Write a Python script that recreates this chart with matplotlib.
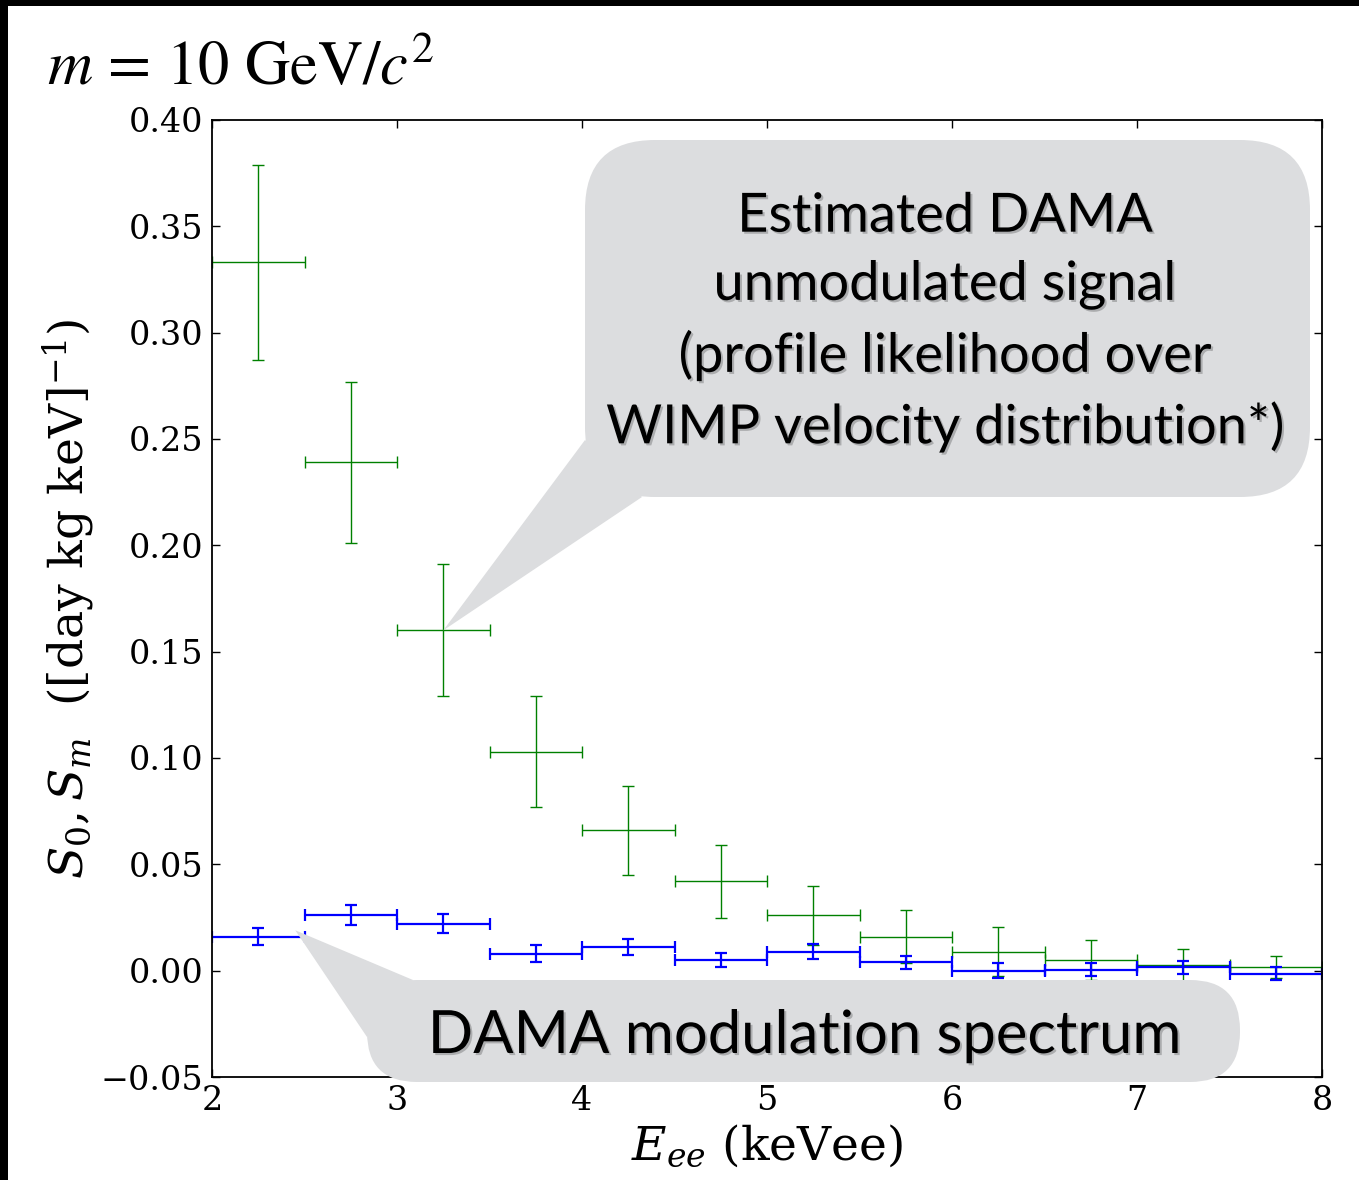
import matplotlib
matplotlib.use("Agg")
import matplotlib.pyplot as plt
import matplotlib.patheffects as pe
from matplotlib.patches import FancyBboxPatch, Polygon, Rectangle

# DAMA spectra, m = 10 GeV/c^2
energy = [2.25, 2.75, 3.25, 3.75, 4.25, 4.75, 5.25, 5.75, 6.25, 6.75, 7.25, 7.75]
bin_half = 0.25
s0 = [0.333, 0.239, 0.160, 0.103, 0.066, 0.042, 0.026, 0.016, 0.009, 0.005, 0.0027, 0.0017]
s0_err = [0.046, 0.038, 0.031, 0.026, 0.021, 0.017, 0.014, 0.0125, 0.0115, 0.0095, 0.0075, 0.005]
sm = [0.016, 0.026, 0.022, 0.008, 0.011, 0.005, 0.009, 0.004, 0.000, 0.0005, 0.0015, -0.0015]
sm_err = [0.004, 0.0047, 0.0045, 0.004, 0.0038, 0.0035, 0.0035, 0.003, 0.0035, 0.003, 0.003, 0.003]
yticks = [-0.05, 0.00, 0.05, 0.10, 0.15, 0.20, 0.25, 0.30, 0.35, 0.40]
xticks = [2, 3, 4, 5, 6, 7, 8]

W, H = 1359, 1180
plt.rcParams['font.family'] = 'DejaVu Serif'
plt.rcParams['mathtext.fontset'] = 'dejavuserif'

fig = plt.figure(figsize=(W / 100, H / 100), dpi=100)
ax = fig.add_axes([212 / W, 1 - 1077 / H, (1322 - 212) / W, (1077 - 120) / H])

ax.errorbar(energy, s0, xerr=bin_half, yerr=s0_err, fmt='none', ecolor='g',
            elinewidth=1.0, capsize=4, capthick=1.0)
ax.errorbar(energy, sm, xerr=bin_half, yerr=sm_err, fmt='none', ecolor='b',
            elinewidth=1.6, capsize=4, capthick=1.6)

ax.set_xlim(2, 8)
ax.set_ylim(-0.05, 0.40)
ax.set_xticks(xticks)
ax.set_yticks(yticks)
ax.set_yticklabels(['\u22120.05' if t < 0 else f'{t:.2f}' for t in yticks])
ax.tick_params(direction='in', top=True, right=True, length=6, width=1,
               labelsize=24, pad=6)
for s in ax.spines.values():
    s.set_linewidth(1.3)

ax.set_xlabel(r'$E_{ee}$ (keVee)', fontsize=34, labelpad=4)
ax.set_ylabel(r'$S_0, S_m$  ([day kg keV]$^{-1}$)', fontsize=34, labelpad=3)

fig.text(47 / W, 1 - 85 / H, r'$m$ = 10 GeV/$c^2$', fontsize=45,
         family='STIXGeneral', math_fontfamily='stix', va='baseline')

# overlay in pixel coordinates for the callouts
ov = fig.add_axes([0, 0, 1, 1], zorder=5)
ov.set_xlim(0, W)
ov.set_ylim(H, 0)
ov.axis('off')


def to_px(x, y):
    px, py = ax.transData.transform((x, y))
    return px, H - py


gray = '#dcdddf'
shadow = [pe.withSimplePatchShadow(offset=(1.5, -1.5), shadow_rgbFace='k', alpha=0.22)]

tip = to_px(3.25, 0.16)
ov.add_patch(Polygon([tip, (585, 440), (642, 497)], closed=True, fc=gray, ec='none'))
ov.add_patch(FancyBboxPatch((585, 140), 725, 357, boxstyle='round,pad=0,rounding_size=70',
                            fc=gray, ec='none'))
ov.text(945, 322, 'Estimated DAMA\nunmodulated signal\n(profile likelihood over\nWIMP velocity distribution*)',
        ha='center', va='center', fontsize=39, family='Lato', linespacing=1.48,
        path_effects=shadow)

tip2 = to_px(2.45, 0.019)
ov.add_patch(Polygon([tip2, (413, 980), (367, 1037)], closed=True, fc=gray, ec='none'))
ov.add_patch(FancyBboxPatch((367, 980), 873, 102, boxstyle='round,pad=0,rounding_size=50',
                            fc=gray, ec='none'))
ov.text(805, 1036, 'DAMA modulation spectrum', ha='center', va='center',
        fontsize=43, family='Lato', path_effects=shadow)

# black frame edges of the original slide
ov.add_patch(Rectangle((0, 0), W, 6, fc='k', ec='none'))
ov.add_patch(Rectangle((0, 0), 8, H, fc='k', ec='none'))

fig.savefig('out.png', dpi=100)
